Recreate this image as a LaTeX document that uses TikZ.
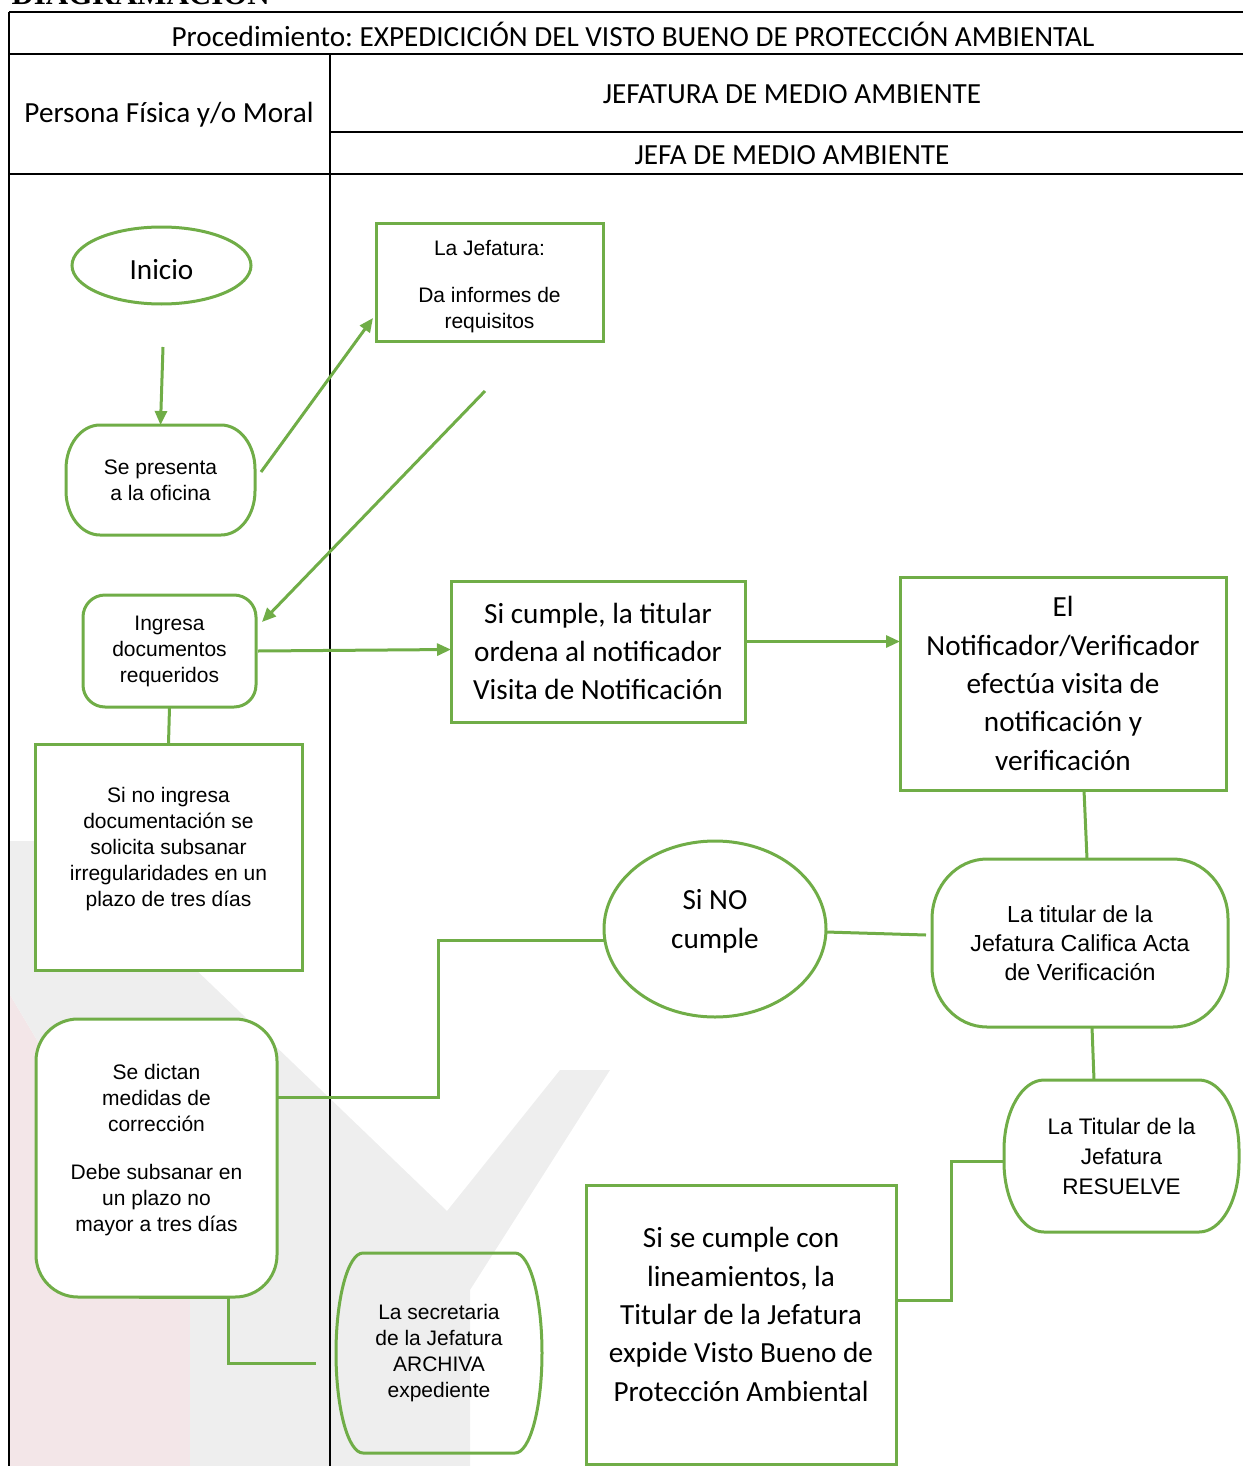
\documentclass[tikz,border=0pt]{standalone}
\usepackage{fontspec}
\setmainfont{Liberation Serif}
\newfontfamily\calibri{Carlito}
\newfontfamily\arial{Liberation Sans}
\frenchspacing
\usetikzlibrary{arrows.meta, calc, shapes.geometric}
\definecolor{verde}{RGB}{112,173,71}
\definecolor{fondogris}{RGB}{238,238,238}
\definecolor{fondorosa}{RGB}{243,230,232}
\def\grande{\calibri\fontsize{29.2}{38.3}\selectfont}
\def\chica{\arial\fontsize{21}{26}\selectfont}
% caja con lados abombados (esquinas elipticas)
\def\bulto#1#2#3{\draw[linea] ($(#1.north west)+(#2,0)$) -- ($(#1.north east)+(-#2,0)$)
  arc[start angle=90, end angle=0, x radius=#2pt, y radius=#3pt] -- ($(#1.south east)+(0,#3)$)
  arc[start angle=0, end angle=-90, x radius=#2pt, y radius=#3pt] -- ($(#1.south west)+(#2,0)$)
  arc[start angle=270, end angle=180, x radius=#2pt, y radius=#3pt] -- ($(#1.north west)+(0,-#3)$)
  arc[start angle=180, end angle=90, x radius=#2pt, y radius=#3pt] -- cycle;}
\tikzset{
  linea/.style={draw=verde, line width=3pt},
  flecha/.style={linea, -{Triangle[length=14pt,width=12pt]}},
  caja/.style={linea, rectangle, align=center, inner sep=0pt, outer sep=0pt},
  redonda/.style={caja, rounded corners=#1},
  ovalo/.style={linea, ellipse, align=center, inner sep=0pt, outer sep=0pt},
  hueca/.style={rectangle, align=center, inner sep=0pt, outer sep=0pt},
  tabla/.style={black, line width=1.6pt},
}

\begin{document}
\begin{tikzpicture}[x=1pt, y=1pt]
\useasboundingbox (0,0) rectangle (1243,-1466);
\clip (0,0) rectangle (1243,-1466);

% marca de agua
\fill[fondorosa] (9,-993) -- (190,-1297) -- (190,-1466) -- (9,-1466) -- cycle;
\fill[fondogris] (9,-841) -- (62,-841) -- (447,-1211) -- (560,-1070) -- (610,-1070) -- (470,-1290)
  -- (470,-1466) -- (190,-1466) -- (190,-1297) -- (9,-993) -- cycle;

\node[anchor=base west, font=\bfseries\fontsize{31}{31}\selectfont] (titulo) at (8,-5) {DIAGRAMACIÓN};

% tabla
\draw[tabla] (9,-12) -- (1243,-12);
\draw[tabla] (9,-54) -- (1243,-54);
\draw[tabla] (330,-132) -- (1243,-132);
\draw[tabla] (9,-174) -- (1243,-174);
\draw[tabla] (9,-12) -- (9,-1466);
\draw[tabla] (330,-54) -- (330,-1466);

\node[font=\grande] (proc) at (633,-34) {Procedimiento: EXPEDICICIÓN DEL VISTO BUENO DE PROTECCIÓN AMBIENTAL};
\node[font=\grande] (persona) at (169,-115) {Persona Física y/o Moral};
\node[font=\grande] (depto) at (792,-94) {JEFATURA DE MEDIO AMBIENTE};
\node[font=\grande] (jefa) at (792,-155) {JEFA DE MEDIO AMBIENTE};

% nodos
\node[ovalo, fill=white, minimum width=179, minimum height=77, font=\grande, text height=27pt, text depth=0pt] (inicio) at (161.5,-265.5) {Inicio};
\node[hueca, minimum width=189, minimum height=110, font=\chica] (presenta) at (160.5,-480) {Se presenta\\a la oficina};
\bulto{presenta}{34}{44}
\node[caja, fill=white, minimum width=227, minimum height=118, font=\chica] (informes) at (489.5,-282) {\rule{0pt}{25pt}La Jefatura:\\[21pt]Da informes de\\requisitos};
\node[redonda=22pt, fill=white, minimum width=173, minimum height=112, font=\chica] (ingresa) at (169.5,-651) {Ingresa\\documentos\\requeridos};
\node[caja, fill=white, minimum width=294, minimum height=141, font=\grande] (ordena) at (598,-651.5) {Si cumple, la titular\\ordena al notificador\\Visita de Notificación};
\node[caja, fill=white, minimum width=326, minimum height=213, font=\grande] (visita) at (1063,-683.5) {El\\Notificador/Verificador\\efectúa visita de\\notificación y\\verificación};
\node[caja, fill=white, minimum width=267, minimum height=226, font=\chica] (noingresa) at (168.5,-857) {Si no ingresa\\documentación se\\solicita subsanar\\irregularidades en un\\plazo de tres días\\[-6pt]};
\node[ovalo, fill=white, minimum width=222, minimum height=176, font=\grande] (nocumple) at (715,-929) {Si NO\\cumple\\[-18pt]};
\fill[white] (932,-859) rectangle (1228,-1027);
\node[hueca, minimum width=296, minimum height=168, font=\arial\fontsize{23.2}{29}\selectfont] (califica) at (1080,-943) {La titular de la\\Jefatura Califica Acta\\de Verificación};
\bulto{califica}{55}{60}
\node[redonda=42pt, fill=white, minimum width=241, minimum height=278, font=\chica] (medidas) at (156.5,-1158) {Se dictan\\medidas de\\corrección\\[22pt]Debe subsanar en\\un plazo no\\mayor a tres días\\[-6pt]};
\node[hueca, minimum width=235, minimum height=152, font=\arial\fontsize{22.5}{30}\selectfont] (resuelve) at (1121.5,-1156) {La Titular de la\\Jefatura\\RESUELVE};
\bulto{resuelve}{40}{70}
\node[hueca, minimum width=206, minimum height=200, font=\chica] (archiva) at (439,-1353) {La secretaria\\de la Jefatura\\ARCHIVA\\expediente};
\bulto{archiva}{27}{100}
\node[caja, fill=white, minimum width=310, minimum height=279, font=\grande] (expide) at (741,-1324.5) {Si se cumple con\\lineamientos, la\\Titular de la Jefatura\\expide Visto Bueno de\\Protección Ambiental\\[-18pt]};

% conectores
\coordinate (arranque) at (163,-347);
\coordinate (regreso) at (485,-391);
\coordinate (archivo) at (316,-1363);
\draw[flecha] (arranque) -- (presenta.north);
\draw[flecha] ([xshift=6pt,yshift=8pt]presenta.east) -- ([xshift=-3pt,yshift=-36pt]informes.west);
\draw[flecha] (regreso) -- ([xshift=6pt,yshift=29pt]ingresa.east);
\draw[flecha] ([xshift=2pt]ingresa.east) -- ([yshift=2pt]ordena.west);
\draw[flecha] ([yshift=10pt]ordena.east) -- ([yshift=10pt]ordena.east -| visita.west);
\draw[linea] (ingresa.south) -- (noingresa.north);
\draw[linea] ([xshift=21pt]visita.south) -- ([xshift=7pt]califica.north);
\draw[linea] ([yshift=-3pt]nocumple.east) -- ([xshift=-6pt,yshift=8pt]califica.west);
\draw[linea] ([yshift=-11pt]nocumple.west) -- ++(-166,0) |- ([yshift=61pt]medidas.east);
\draw[linea] ([xshift=12pt]califica.south) -- ([xshift=-27.5pt]resuelve.north);
\draw[linea] ([yshift=-5pt]resuelve.west) -- ++(-53,0) |- ([yshift=24.5pt]expide.east);
\draw[linea] ([xshift=-18pt]medidas.south) -- ++(90,0) |- (archivo);
\end{tikzpicture}
\end{document}
